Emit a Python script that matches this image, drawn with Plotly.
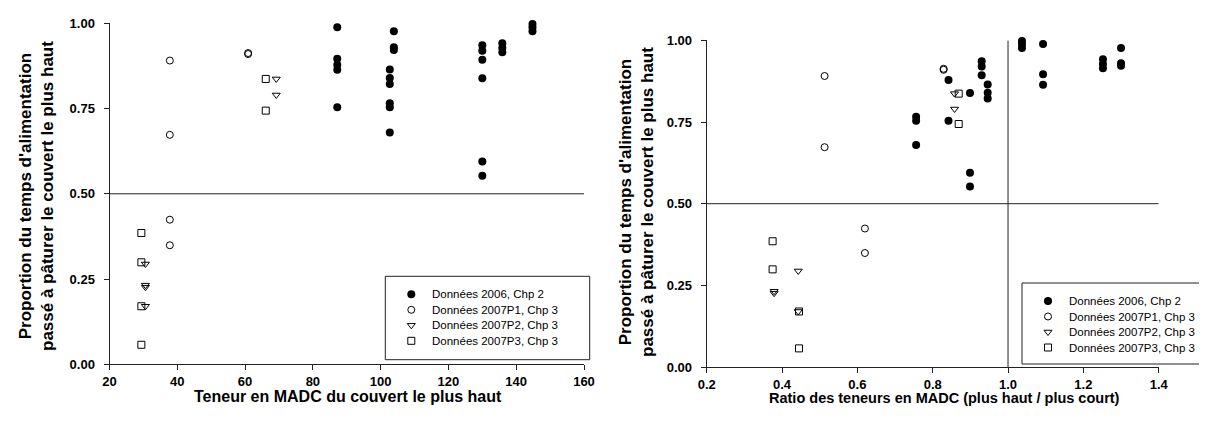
import plotly.graph_objects as go

# --- data ------------------------------------------------------------------
# Données 2006, Chp 2 (filled circles)
y_2006 = [0.989, 0.896, 0.879, 0.864, 0.754,
          0.977, 0.930, 0.922,
          0.865, 0.840, 0.822, 0.766, 0.754, 0.680,
          0.936, 0.920, 0.893, 0.839, 0.595, 0.553,
          0.942, 0.928, 0.915,
          0.998, 0.989, 0.977]
madc_2006 = [87.2, 87.2, 87.2, 87.2, 87.2,
             103.9, 103.9, 103.9,
             102.7, 102.7, 102.7, 102.7, 102.7, 102.7,
             130.0, 130.0, 130.0, 130.0, 130.0, 130.0,
             135.9, 135.9, 135.9,
             144.8, 144.8, 144.8]
ratio_2006 = [1.093, 1.093, 0.842, 1.093, 0.842,
              1.300, 1.300, 1.300,
              0.946, 0.946, 0.946, 0.756, 0.756, 0.756,
              0.930, 0.930, 0.930, 0.899, 0.899, 0.899,
              1.252, 1.252, 1.252,
              1.037, 1.037, 1.037]

# Données 2007P1, Chp 3 (open circles)
y_p1 = [0.891, 0.673, 0.913, 0.910, 0.424, 0.349]
madc_p1 = [37.8, 37.8, 60.9, 60.9, 37.8, 37.8]
ratio_p1 = [0.513, 0.513, 0.829, 0.829, 0.620, 0.620]

# Données 2007P2, Chp 3 (open triangles)
y_p2 = [0.837, 0.790, 0.294, 0.232, 0.226, 0.170]
madc_p2 = [69.2, 69.2, 30.6, 30.6, 30.6, 30.6]
ratio_p2 = [0.858, 0.858, 0.443, 0.379, 0.379, 0.443]

# Données 2007P3, Chp 3 (open squares)
y_p3 = [0.837, 0.744, 0.385, 0.299, 0.170, 0.057]
madc_p3 = [66.1, 66.1, 29.4, 29.4, 29.4, 29.4]
ratio_p3 = [0.869, 0.869, 0.375, 0.375, 0.445, 0.445]

names = ['Données 2006, Chp 2', 'Données 2007P1, Chp 3',
         'Données 2007P2, Chp 3', 'Données 2007P3, Chp 3']

# tick labels
y_ticks = [0, 0.25, 0.5, 0.75, 1.0]
y_ticklabels = ['0.00', '0.25', '0.50', '0.75', '1.00']
madc_ticks = [20, 40, 60, 80, 100, 120, 140, 160]
madc_ticklabels = ['20', '40', '60', '80', '100', '120', '140', '160']
ratio_ticks = [0.2, 0.4, 0.6, 0.8, 1.0, 1.2, 1.4]
ratio_ticklabels = ['0.2', '0.4', '0.6', '0.8', '1.0', '1.2', '1.4']

x_title_left = 'Teneur en MADC du couvert le plus haut'
x_title_right = 'Ratio des teneurs en MADC (plus haut / plus court)'
y_title = "Proportion du temps d'alimentation<br>passé à pâturer le couvert le plus haut"

W, H = 1207, 421
FONT = 'Liberation Sans, Arial, sans-serif'
INK = '#222222'

markers = [
    dict(symbol='circle', size=8, color='black'),
    dict(symbol='circle-open', size=7, color='black', line=dict(width=1)),
    dict(symbol='triangle-down-open', size=7, color='black', line=dict(width=1)),
    dict(symbol='square-open', size=7, color='black', line=dict(width=1)),
]
series = [(y_2006, madc_2006, ratio_2006), (y_p1, madc_p1, ratio_p1),
          (y_p2, madc_p2, ratio_p2), (y_p3, madc_p3, ratio_p3)]


def px_x(p):
    return p / W


def px_y(p):
    return (H - p) / H


def bold(labels):
    return ['<b>%s</b>' % t for t in labels]


fig = go.Figure()

for name, (ys, madc, ratio), marker in zip(names, series, markers):
    fig.add_trace(go.Scatter(x=madc, y=ys, mode='markers', name=name, marker=marker,
                             xaxis='x', yaxis='y', cliponaxis=False))
    fig.add_trace(go.Scatter(x=ratio, y=ys, mode='markers', name=name, marker=marker,
                             xaxis='x2', yaxis='y2', cliponaxis=False))

axis_common = dict(showline=True, linecolor=INK, linewidth=1, ticks='outside', ticklen=5,
                   tickcolor=INK, showgrid=False, zeroline=False, automargin=False,
                   tickfont=dict(family=FONT, size=13, color='black'))
xaxis_common = dict(ticklabelstandoff=0, **axis_common)
yaxis_common = dict(ticklabelstandoff=6, **axis_common)

fig.update_layout(
    width=W, height=H,
    margin=dict(l=0, r=0, t=0, b=0, autoexpand=False),
    paper_bgcolor='white', plot_bgcolor='white',
    showlegend=False,
    xaxis=dict(domain=[px_x(101.5), px_x(576)], range=[20, 160], tickvals=madc_ticks,
               ticktext=bold(madc_ticklabels), anchor='y', **xaxis_common),
    yaxis=dict(domain=[px_y(356.2), px_y(15.4)], range=[0, 1], tickvals=y_ticks,
               ticktext=bold(y_ticklabels), anchor='x', **yaxis_common),
    xaxis2=dict(domain=[px_x(698.7), px_x(1150.7)], range=[0.2, 1.4], tickvals=ratio_ticks,
                ticktext=bold(ratio_ticklabels), anchor='y2', **xaxis_common),
    yaxis2=dict(domain=[px_y(359), px_y(32.4)], range=[0, 1], tickvals=y_ticks,
                ticktext=bold(y_ticklabels), anchor='x2', **yaxis_common),
)

# reference lines
fig.add_shape(type='line', xref='x', yref='y', x0=20, x1=160, y0=0.5, y1=0.5,
              line=dict(color=INK, width=1))
fig.add_shape(type='line', xref='x2', yref='y2', x0=0.2, x1=1.4, y0=0.5, y1=0.5,
              line=dict(color=INK, width=1))
fig.add_shape(type='line', xref='x2', yref='y2', x0=1.0, x1=1.0, y0=0, y1=1,
              line=dict(color=INK, width=1))

# hand-built legends: a small hidden axis pair spans each legend box (units = px)
ROW0, ROW_STEP, SYM_X, TEXT_X = 18, 15.5, 26, 45
legend_boxes = [('x3', 'y3', 377.3, 581.7, 268.3, 351.7),
                ('x4', 'y4', 1014, 1206, 275, 356)]
for xa, ya, left, right, top, bottom in legend_boxes:
    n = xa[1:]
    fig.update_layout({
        'xaxis' + n: dict(domain=[px_x(left), px_x(right)], range=[0, right - left],
                          visible=False, fixedrange=True, anchor=ya),
        'yaxis' + n: dict(domain=[px_y(bottom), px_y(top)], range=[bottom - top, 0],
                          visible=False, fixedrange=True, anchor=xa),
    })
    fig.add_shape(type='rect', xref='paper', yref='paper',
                  x0=px_x(left), x1=px_x(right), y0=px_y(bottom), y1=px_y(top),
                  line=dict(color=INK, width=1))
    for i, (name, marker) in enumerate(zip(names, markers)):
        row = ROW0 + i * ROW_STEP
        fig.add_trace(go.Scatter(x=[SYM_X], y=[row], mode='markers', marker=marker,
                                 xaxis=xa, yaxis=ya, hoverinfo='skip', cliponaxis=False))
        fig.add_annotation(x=TEXT_X, y=row, xref=xa, yref=ya, text=name, showarrow=False,
                           xanchor='left', yanchor='middle',
                           font=dict(family=FONT, size=11.5, color='black'))

# axis titles
for xc, yc, text, angle, size in [
    (340, 388, x_title_left, 0, 16),
    (936, 390, x_title_right, 0, 14.5),
    (28, 188, y_title, -90, 17),
    (628, 194, y_title, -90, 17),
]:
    fig.add_annotation(x=px_x(xc), y=px_y(yc), xref='paper', yref='paper', text=text,
                       showarrow=False, textangle=angle, xanchor='center', yanchor='middle',
                       font=dict(family=FONT, size=size, color='black', weight='bold'))

fig.write_html('out.html')
